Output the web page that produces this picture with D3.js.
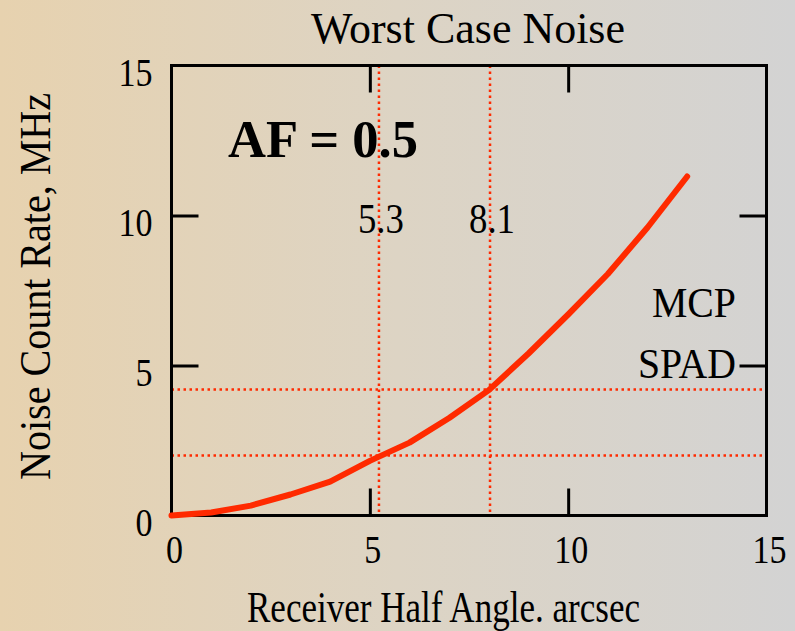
<!DOCTYPE html>
<html>
<head>
<meta charset="utf-8">
<script src="https://cdn.jsdelivr.net/npm/d3@7"></script>
<style>
  body { margin: 0; padding: 0; }
  svg text { font-family: "Liberation Serif", "DejaVu Serif", serif; fill: #000; }
</style>
</head>
<body>
<div id="chart"></div>
<script>
// curve: noise count rate vs receiver half angle
var angle = [0, 1, 2, 3, 4, 5, 6, 7, 8, 9, 10, 11, 12, 13];
var rate  = [0, 0.1, 0.33, 0.7, 1.13, 1.82, 2.43, 3.25, 4.18, 5.4, 6.7, 8.05, 9.6, 11.3];

// marker lines
var markerX = [5.23, 8.03];
var markerLabels = ["5.3", "8.1"];
var levelY = [4.2, 2.0];
var levelLabels = ["MCP", "SPAD"];

var xTicks = [0, 5, 10, 15];
var yTicks = [0, 5, 10, 15];

var W = 795, H = 631;
var margin = {top: 65.5, right: 28.5, bottom: 115.5, left: 171.5};
var width = W - margin.left - margin.right;
var height = H - margin.top - margin.bottom;

var svg = d3.select("#chart").append("svg")
    .attr("width", W)
    .attr("height", H);

var grad = svg.append("defs").append("linearGradient")
    .attr("id", "bg")
    .attr("x1", "0%").attr("x2", "100%").attr("y1", "0%").attr("y2", "0%");
grad.append("stop").attr("offset", "0%").attr("stop-color", "#e7d2af");
grad.append("stop").attr("offset", "50%").attr("stop-color", "#ddd4c4");
grad.append("stop").attr("offset", "100%").attr("stop-color", "#d3d3d3");

svg.append("rect")
    .attr("width", W).attr("height", H)
    .attr("fill", "url(#bg)");

var x = d3.scaleLinear().domain([0, 15]).range([0, width]);
var y = d3.scaleLinear().domain([0, 15]).range([height, 0]);

var g = svg.append("g")
    .attr("transform", "translate(" + margin.left + "," + margin.top + ")");

// dotted guide lines
var dot = "2.5,3.5";
g.selectAll(".vmark").data(markerX).enter().append("line")
    .attr("class", "vmark")
    .attr("x1", function(d) { return x(d); })
    .attr("x2", function(d) { return x(d); })
    .attr("y1", 0).attr("y2", height)
    .attr("stroke", "#ff2a00").attr("stroke-width", 2.5)
    .attr("stroke-dasharray", dot);

g.selectAll(".hmark").data(levelY).enter().append("line")
    .attr("class", "hmark")
    .attr("x1", 0).attr("x2", width)
    .attr("y1", function(d) { return y(d); })
    .attr("y2", function(d) { return y(d); })
    .attr("stroke", "#ff2a00").attr("stroke-width", 2.5)
    .attr("stroke-dasharray", dot);

// ticks pointing inward on all four sides
var tickLen = 27;
var axisStyle = function(sel) {
    sel.select(".domain").remove();
    sel.selectAll(".tick line").attr("stroke", "#000").attr("stroke-width", 3);
    sel.selectAll(".tick text").remove();
};
var inner = [5, 10];
g.append("g").attr("transform", "translate(0," + height + ")")
    .call(d3.axisTop(x).tickValues(inner).tickSize(tickLen)).call(axisStyle);
g.append("g")
    .call(d3.axisBottom(x).tickValues(inner).tickSize(tickLen)).call(axisStyle);
g.append("g")
    .call(d3.axisRight(y).tickValues(inner).tickSize(tickLen)).call(axisStyle);
g.append("g").attr("transform", "translate(" + width + ",0)")
    .call(d3.axisLeft(y).tickValues(inner).tickSize(tickLen)).call(axisStyle);

// frame
g.append("rect")
    .attr("width", width).attr("height", height)
    .attr("fill", "none").attr("stroke", "#000").attr("stroke-width", 3);

// tick labels (tall, narrow digits)
var digitW = 17;
g.selectAll(".xl").data(xTicks).enter().append("text")
    .attr("class", "xl")
    .attr("x", function(d) { return x(d) + 3; })
    .attr("y", height + 47)
    .attr("text-anchor", "middle")
    .attr("textLength", function(d) { return String(d).length * digitW; })
    .attr("lengthAdjust", "spacingAndGlyphs")
    .style("font-size", "41px")
    .text(function(d) { return d; });

g.selectAll(".yl").data(yTicks).enter().append("text")
    .attr("class", "yl")
    .attr("x", -19)
    .attr("y", function(d) { return y(d) + 20; })
    .attr("text-anchor", "end")
    .attr("textLength", function(d) { return String(d).length * digitW; })
    .attr("lengthAdjust", "spacingAndGlyphs")
    .style("font-size", "41px")
    .text(function(d) { return d; });

// curve
var line = d3.line()
    .x(function(d, i) { return x(angle[i]); })
    .y(function(d) { return y(d); });

g.append("path")
    .datum(rate)
    .attr("d", line)
    .attr("fill", "none")
    .attr("stroke", "#ff2a00")
    .attr("stroke-width", 6)
    .attr("stroke-linecap", "round")
    .attr("stroke-linejoin", "round");

// marker labels
g.selectAll(".ml").data(markerX).enter().append("text")
    .attr("class", "ml")
    .attr("x", function(d) { return x(d) + 2; })
    .attr("y", 233 - margin.top)
    .attr("text-anchor", "middle")
    .attr("textLength", 46).attr("lengthAdjust", "spacingAndGlyphs")
    .style("font-size", "42px")
    .text(function(d, i) { return markerLabels[i]; });

g.selectAll(".ll").data(levelLabels).enter().append("text")
    .attr("class", "ll")
    .attr("x", 736 - margin.left)
    .attr("y", function(d, i) { return (i === 0 ? 317 : 378) - margin.top; })
    .attr("text-anchor", "end")
    .attr("textLength", function(d, i) { return i === 0 ? 84 : 98; })
    .attr("lengthAdjust", "spacingAndGlyphs")
    .style("font-size", "43px")
    .text(function(d) { return d; });

// AF label
g.append("text")
    .attr("x", 228 - margin.left)
    .attr("y", 157 - margin.top)
    .attr("textLength", 190).attr("lengthAdjust", "spacingAndGlyphs")
    .style("font-size", "52px")
    .style("font-weight", "bold")
    .text("AF = 0.5");

// titles
svg.append("text")
    .attr("x", 311).attr("y", 43)
    .attr("textLength", 314).attr("lengthAdjust", "spacingAndGlyphs")
    .style("font-size", "45px")
    .text("Worst Case Noise");

svg.append("text")
    .attr("x", 247).attr("y", 622)
    .attr("textLength", 393).attr("lengthAdjust", "spacingAndGlyphs")
    .style("font-size", "45px")
    .text("Receiver Half Angle. arcsec");

svg.append("text")
    .attr("transform", "translate(50,480) rotate(-90)")
    .attr("textLength", 387).attr("lengthAdjust", "spacingAndGlyphs")
    .style("font-size", "45px")
    .text("Noise Count Rate, MHz");
</script>
</body>
</html>
